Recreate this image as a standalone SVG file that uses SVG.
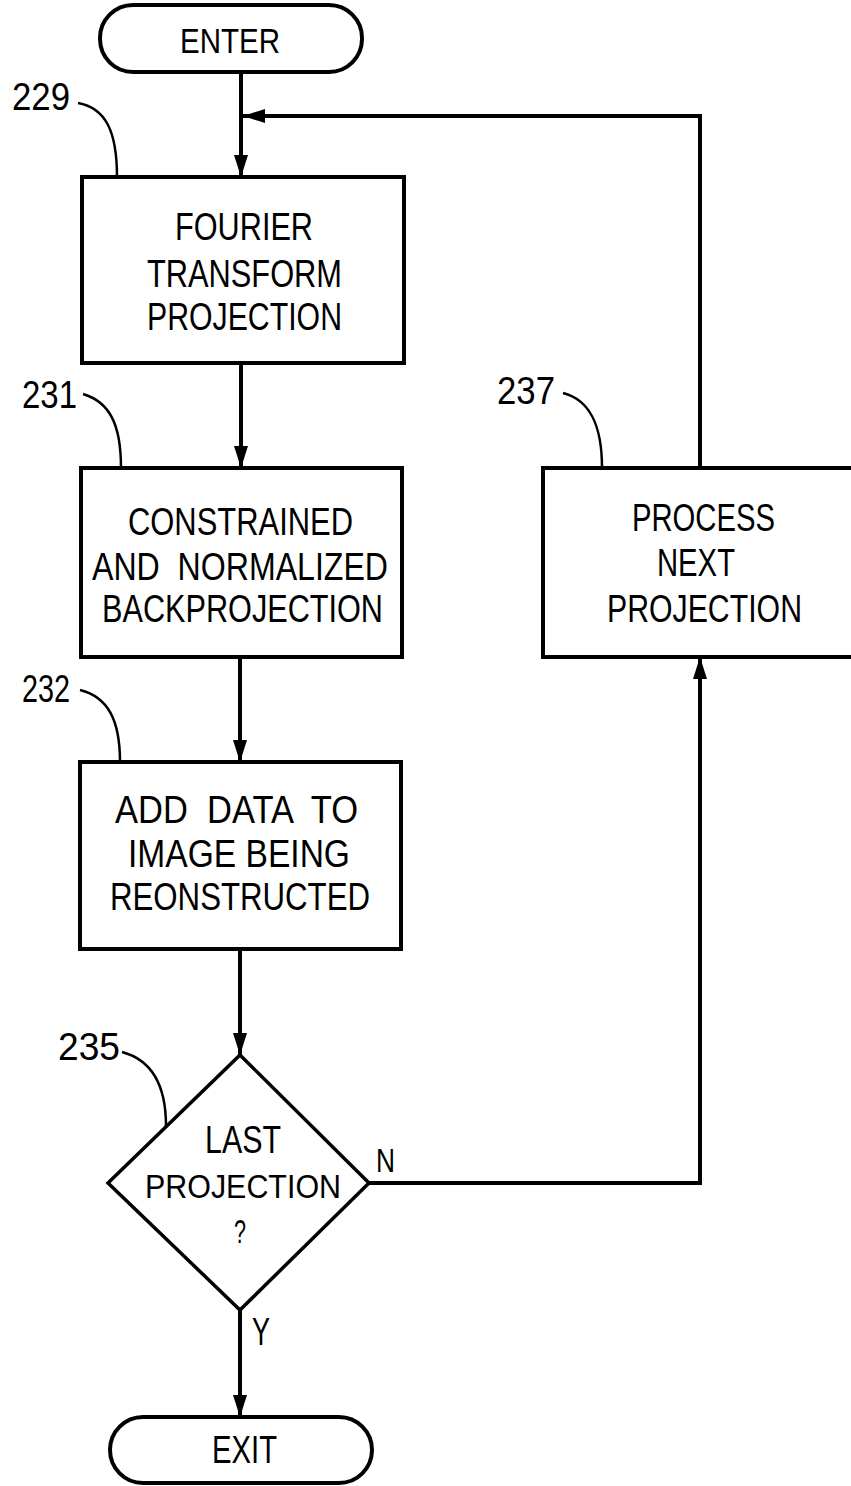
<svg xmlns="http://www.w3.org/2000/svg" width="851" height="1486" viewBox="0 0 851 1486">
<style>
.shape{fill:#fff;stroke:#000;stroke-width:4}
.dia{fill:#fff;stroke:#000;stroke-width:3.5}
.conn{fill:none;stroke:#000;stroke-width:4}
.lead{fill:none;stroke:#000;stroke-width:2.5}
text{font-family:"Liberation Sans",Arial,sans-serif;fill:#000}
.t{font-size:38px}
.lbl{font-size:38px}
</style>
<defs>
<marker id="ah" viewBox="0 0 22 14" refX="22" refY="7" markerWidth="22" markerHeight="14" markerUnits="userSpaceOnUse" orient="auto">
<path d="M0,0 L22,7 L0,14 z" fill="#000"/>
</marker>
</defs>
<rect width="851" height="1486" fill="#fff"/>
<g id="connectors">
<path class="conn" d="M241,72 V177" marker-end="url(#ah)"/>
<path class="conn" d="M241,363 V468" marker-end="url(#ah)"/>
<path class="conn" d="M240,657 V762" marker-end="url(#ah)"/>
<path class="conn" d="M240,948 V1055" marker-end="url(#ah)"/>
<path class="conn" d="M240,1310 V1417" marker-end="url(#ah)"/>
<path class="conn" d="M369,1183 H700 V657" marker-end="url(#ah)"/>
<path class="conn" d="M700,468 V116 H243" marker-end="url(#ah)"/>
<text x="376" y="1172" font-size="34" textLength="19" lengthAdjust="spacingAndGlyphs">N</text>
<text x="252" y="1345" font-size="38" textLength="18" lengthAdjust="spacingAndGlyphs">Y</text>
</g>
<g id="enter">
<rect class="shape" x="100" y="5" width="262" height="67" rx="33"/>
<text x="180" y="53" font-size="35" textLength="100" lengthAdjust="spacingAndGlyphs">ENTER</text>
</g>
<g id="n229">
<rect class="shape" x="82" y="177" width="322" height="186"/>
<text class="t" x="175" y="240" textLength="138" lengthAdjust="spacingAndGlyphs">FOURIER</text>
<text class="t" x="147" y="287" textLength="195" lengthAdjust="spacingAndGlyphs">TRANSFORM</text>
<text class="t" x="147" y="330" textLength="195" lengthAdjust="spacingAndGlyphs">PROJECTION</text>
<path class="lead" d="M78,103 C105,108 117,130 117,177"/>
<text class="lbl" x="12" y="110" textLength="58" lengthAdjust="spacingAndGlyphs">229</text>
</g>
<g id="n231">
<rect class="shape" x="81" y="468" width="321" height="189"/>
<text class="t" x="128" y="535" textLength="225" lengthAdjust="spacingAndGlyphs">CONSTRAINED</text>
<text class="t" x="92" y="580" textLength="296" lengthAdjust="spacingAndGlyphs" xml:space="preserve">AND  NORMALIZED</text>
<text class="t" x="102" y="622" textLength="281" lengthAdjust="spacingAndGlyphs">BACKPROJECTION</text>
<path class="lead" d="M83,394 C110,402 121,425 121,468"/>
<text class="lbl" x="22" y="408" textLength="55" lengthAdjust="spacingAndGlyphs">231</text>
</g>
<g id="n232">
<rect class="shape" x="80" y="762" width="321" height="187"/>
<text class="t" x="115" y="823" textLength="243" lengthAdjust="spacingAndGlyphs" xml:space="preserve">ADD  DATA  TO</text>
<text class="t" x="128" y="867" textLength="222" lengthAdjust="spacingAndGlyphs">IMAGE BEING</text>
<text class="t" x="110" y="910" textLength="260" lengthAdjust="spacingAndGlyphs">REONSTRUCTED</text>
<path class="lead" d="M80,690 C108,697 120,720 120,762"/>
<text class="lbl" x="22" y="702" textLength="48" lengthAdjust="spacingAndGlyphs">232</text>
</g>
<g id="n235">
<path class="dia" d="M240,1055 L369,1183 L240,1310 L108,1183 Z"/>
<text class="t" x="205" y="1153" textLength="76" lengthAdjust="spacingAndGlyphs">LAST</text>
<text x="145" y="1198" font-size="34" textLength="196" lengthAdjust="spacingAndGlyphs">PROJECTION</text>
<text x="234" y="1243" font-size="34" textLength="12" lengthAdjust="spacingAndGlyphs">?</text>
<path class="lead" d="M122,1052 C152,1060 166,1085 166,1126"/>
<text class="lbl" x="58" y="1060" textLength="62" lengthAdjust="spacingAndGlyphs">235</text>
</g>
<g id="n237">
<rect class="shape" x="543" y="468" width="330" height="189"/>
<text class="t" x="632" y="531" textLength="143" lengthAdjust="spacingAndGlyphs">PROCESS</text>
<text class="t" x="657" y="576" textLength="78" lengthAdjust="spacingAndGlyphs">NEXT</text>
<text class="t" x="607" y="622" textLength="195" lengthAdjust="spacingAndGlyphs">PROJECTION</text>
<path class="lead" d="M563,393 C590,400 602,425 602,468"/>
<text class="lbl" x="497" y="404" textLength="58" lengthAdjust="spacingAndGlyphs">237</text>
</g>
<g id="exit">
<rect class="shape" x="110" y="1417" width="262" height="66" rx="33"/>
<text x="212" y="1463" font-size="38" textLength="65" lengthAdjust="spacingAndGlyphs">EXIT</text>
</g>
</svg>
